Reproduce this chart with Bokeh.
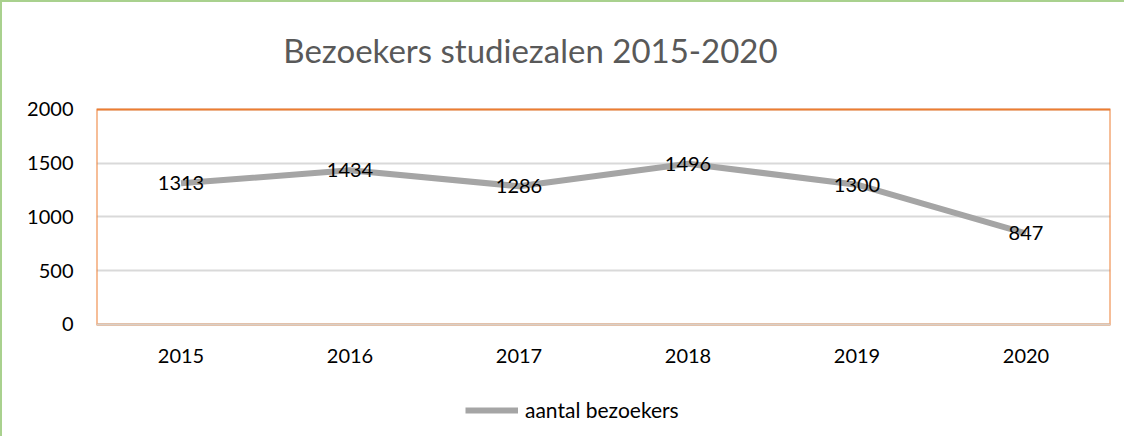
from bokeh.plotting import figure
from bokeh.models import (ColumnDataSource, FactorRange, Range1d, FixedTicker,
                          Legend, LegendItem, BoxAnnotation, Span, Label)
from bokeh.core.properties import value
from bokeh.embed import file_html
from bokeh.resources import INLINE

years = ["2015", "2016", "2017", "2018", "2019", "2020"]
visitors = [1313, 1434, 1286, 1496, 1300, 847]
series_name = "aantal bezoekers"
title_text = "Bezoekers studiezalen 2015-2020"
y_ticks = [0, 500, 1000, 1500, 2000]
y_min, y_max = 0, 2000

FONT = "Lato"

src = ColumnDataSource(dict(x=years, y=visitors, lbl=[str(v) for v in visitors]))

# frame spans (almost) the whole canvas; the orange plot area is drawn as a box 0..2000
p = figure(width=1124, height=436, output_backend="svg", toolbar_location=None,
           x_range=FactorRange(*years, range_padding=0),
           y_range=Range1d(-1042, 2902),
           min_border_left=94, min_border_right=16, min_border_top=10, min_border_bottom=2)
p.styles = {"border-left": "2px solid #A9D18E", "border-top": "2px solid #A9D18E"}

p.outline_line_color = None
p.background_fill_color = "white"
p.border_fill_color = "white"

p.xaxis.visible = False
p.xgrid.grid_line_color = None
p.ygrid.ticker = FixedTicker(ticks=y_ticks)
p.ygrid.grid_line_color = "#D9D9D9"
p.ygrid.grid_line_width = 2

p.yaxis.ticker = FixedTicker(ticks=y_ticks)
p.yaxis.major_tick_line_color = None
p.yaxis.minor_tick_line_color = None
p.yaxis.axis_line_color = None
p.yaxis.major_label_text_font = FONT
p.yaxis.major_label_text_font_size = "20px"
p.yaxis.major_label_text_color = "black"
p.yaxis.major_label_standoff = 17

# plot-area border (orange) and category axis line (pale)
p.add_layout(BoxAnnotation(bottom=y_min, top=y_max, fill_alpha=0,
                           line_color="#ED7D31", line_alpha=1, line_width=2))
p.add_layout(Span(location=y_min, dimension="width", line_color="#D9CFC7",
                  line_alpha=1, line_width=2))

# category labels along the x axis
p.text(x=years, y=y_min, text=years, y_offset=32, text_align="center",
       text_baseline="middle", text_font=value(FONT), text_font_size="20px",
       text_color="black")

r = p.line("x", "y", source=src, line_color="#A5A5A5", line_width=6, line_join="round")
p.text("x", "y", text="lbl", source=src, text_align="center", text_baseline="middle",
       text_font=value(FONT), text_font_size="20px", text_color="black")

p.add_layout(Label(x=2.568, y=2549, text=title_text, text_align="center",
                   text_baseline="middle", text_font=FONT, text_font_size="33px",
                   text_color="#595959"))

legend = Legend(items=[LegendItem(label=series_name, renderers=[r])],
                location=(369, 14), orientation="horizontal",
                glyph_width=53, glyph_height=20, label_standoff=7,
                label_text_font=FONT, label_text_font_size="21px", label_text_color="black",
                padding=0, margin=0, border_line_color=None, background_fill_alpha=0)
p.add_layout(legend, "center")

open("out.html", "w").write(file_html(p, INLINE))
